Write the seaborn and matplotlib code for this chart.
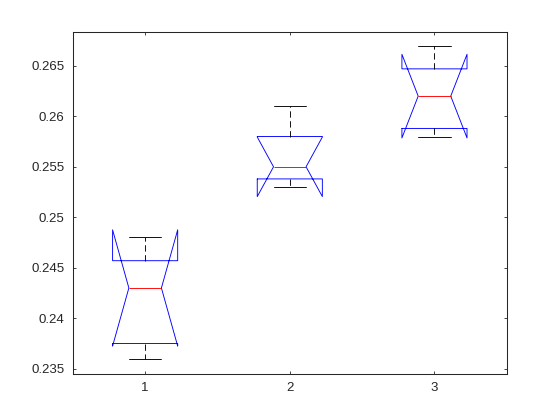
import numpy as np
import pandas as pd
import seaborn as sns
import matplotlib
matplotlib.use("Agg")
import matplotlib.pyplot as plt

group_1 = [0.236, 0.2375, 0.243, 0.2457, 0.248]
group_2 = [0.253, 0.2538, 0.255, 0.258, 0.261]
group_3 = [0.258, 0.2588, 0.262, 0.2647, 0.267]
group_names = ["1", "2", "3"]

y_ticks = [0.235, 0.24, 0.245, 0.25, 0.255, 0.26, 0.265]
y_tick_labels = ["0.235", "0.24", "0.245", "0.25", "0.255", "0.26", "0.265"]

sns.set_style("white")
plt.rcParams["font.family"] = ["Liberation Sans", "DejaVu Sans"]

df = pd.DataFrame({
    "group": np.repeat(group_names, [len(group_1), len(group_2), len(group_3)]),
    "value": group_1 + group_2 + group_3,
})

fig = plt.figure(figsize=(5.6, 4.2), dpi=100)
ax = fig.add_axes([0.13, 0.11, 0.775, 0.815])

axis_color = "#262626"
lw = 0.65
sns.boxplot(data=df, x="group", y="value", order=group_names, ax=ax,
            notch=True, fill=False, width=0.45, whis=1.5, linewidth=lw,
            boxprops={"color": "blue", "linewidth": lw},
            medianprops={"color": "red", "linewidth": lw},
            whiskerprops={"color": "black", "linewidth": lw, "linestyle": (0, (7, 4))},
            capprops={"color": "black", "linewidth": lw},
            flierprops={"marker": "+", "markeredgecolor": "red"})

ax.set_xlim(-0.5, 2.5)
ax.set_ylim(0.2345, 0.2684)
ax.set_yticks(y_ticks)
ax.set_yticklabels(y_tick_labels)
ax.set_xlabel("")
ax.set_ylabel("")

for side in ["top", "right", "bottom", "left"]:
    ax.spines[side].set_visible(True)
    ax.spines[side].set_color(axis_color)
    ax.spines[side].set_linewidth(0.75)
ax.tick_params(direction="in", length=2.5, width=0.6, color=axis_color,
               labelcolor=axis_color, labelsize=9.5, top=True, right=True,
               left=True, bottom=True, pad=6)

fig.savefig("out.png", dpi=100, facecolor="white")
